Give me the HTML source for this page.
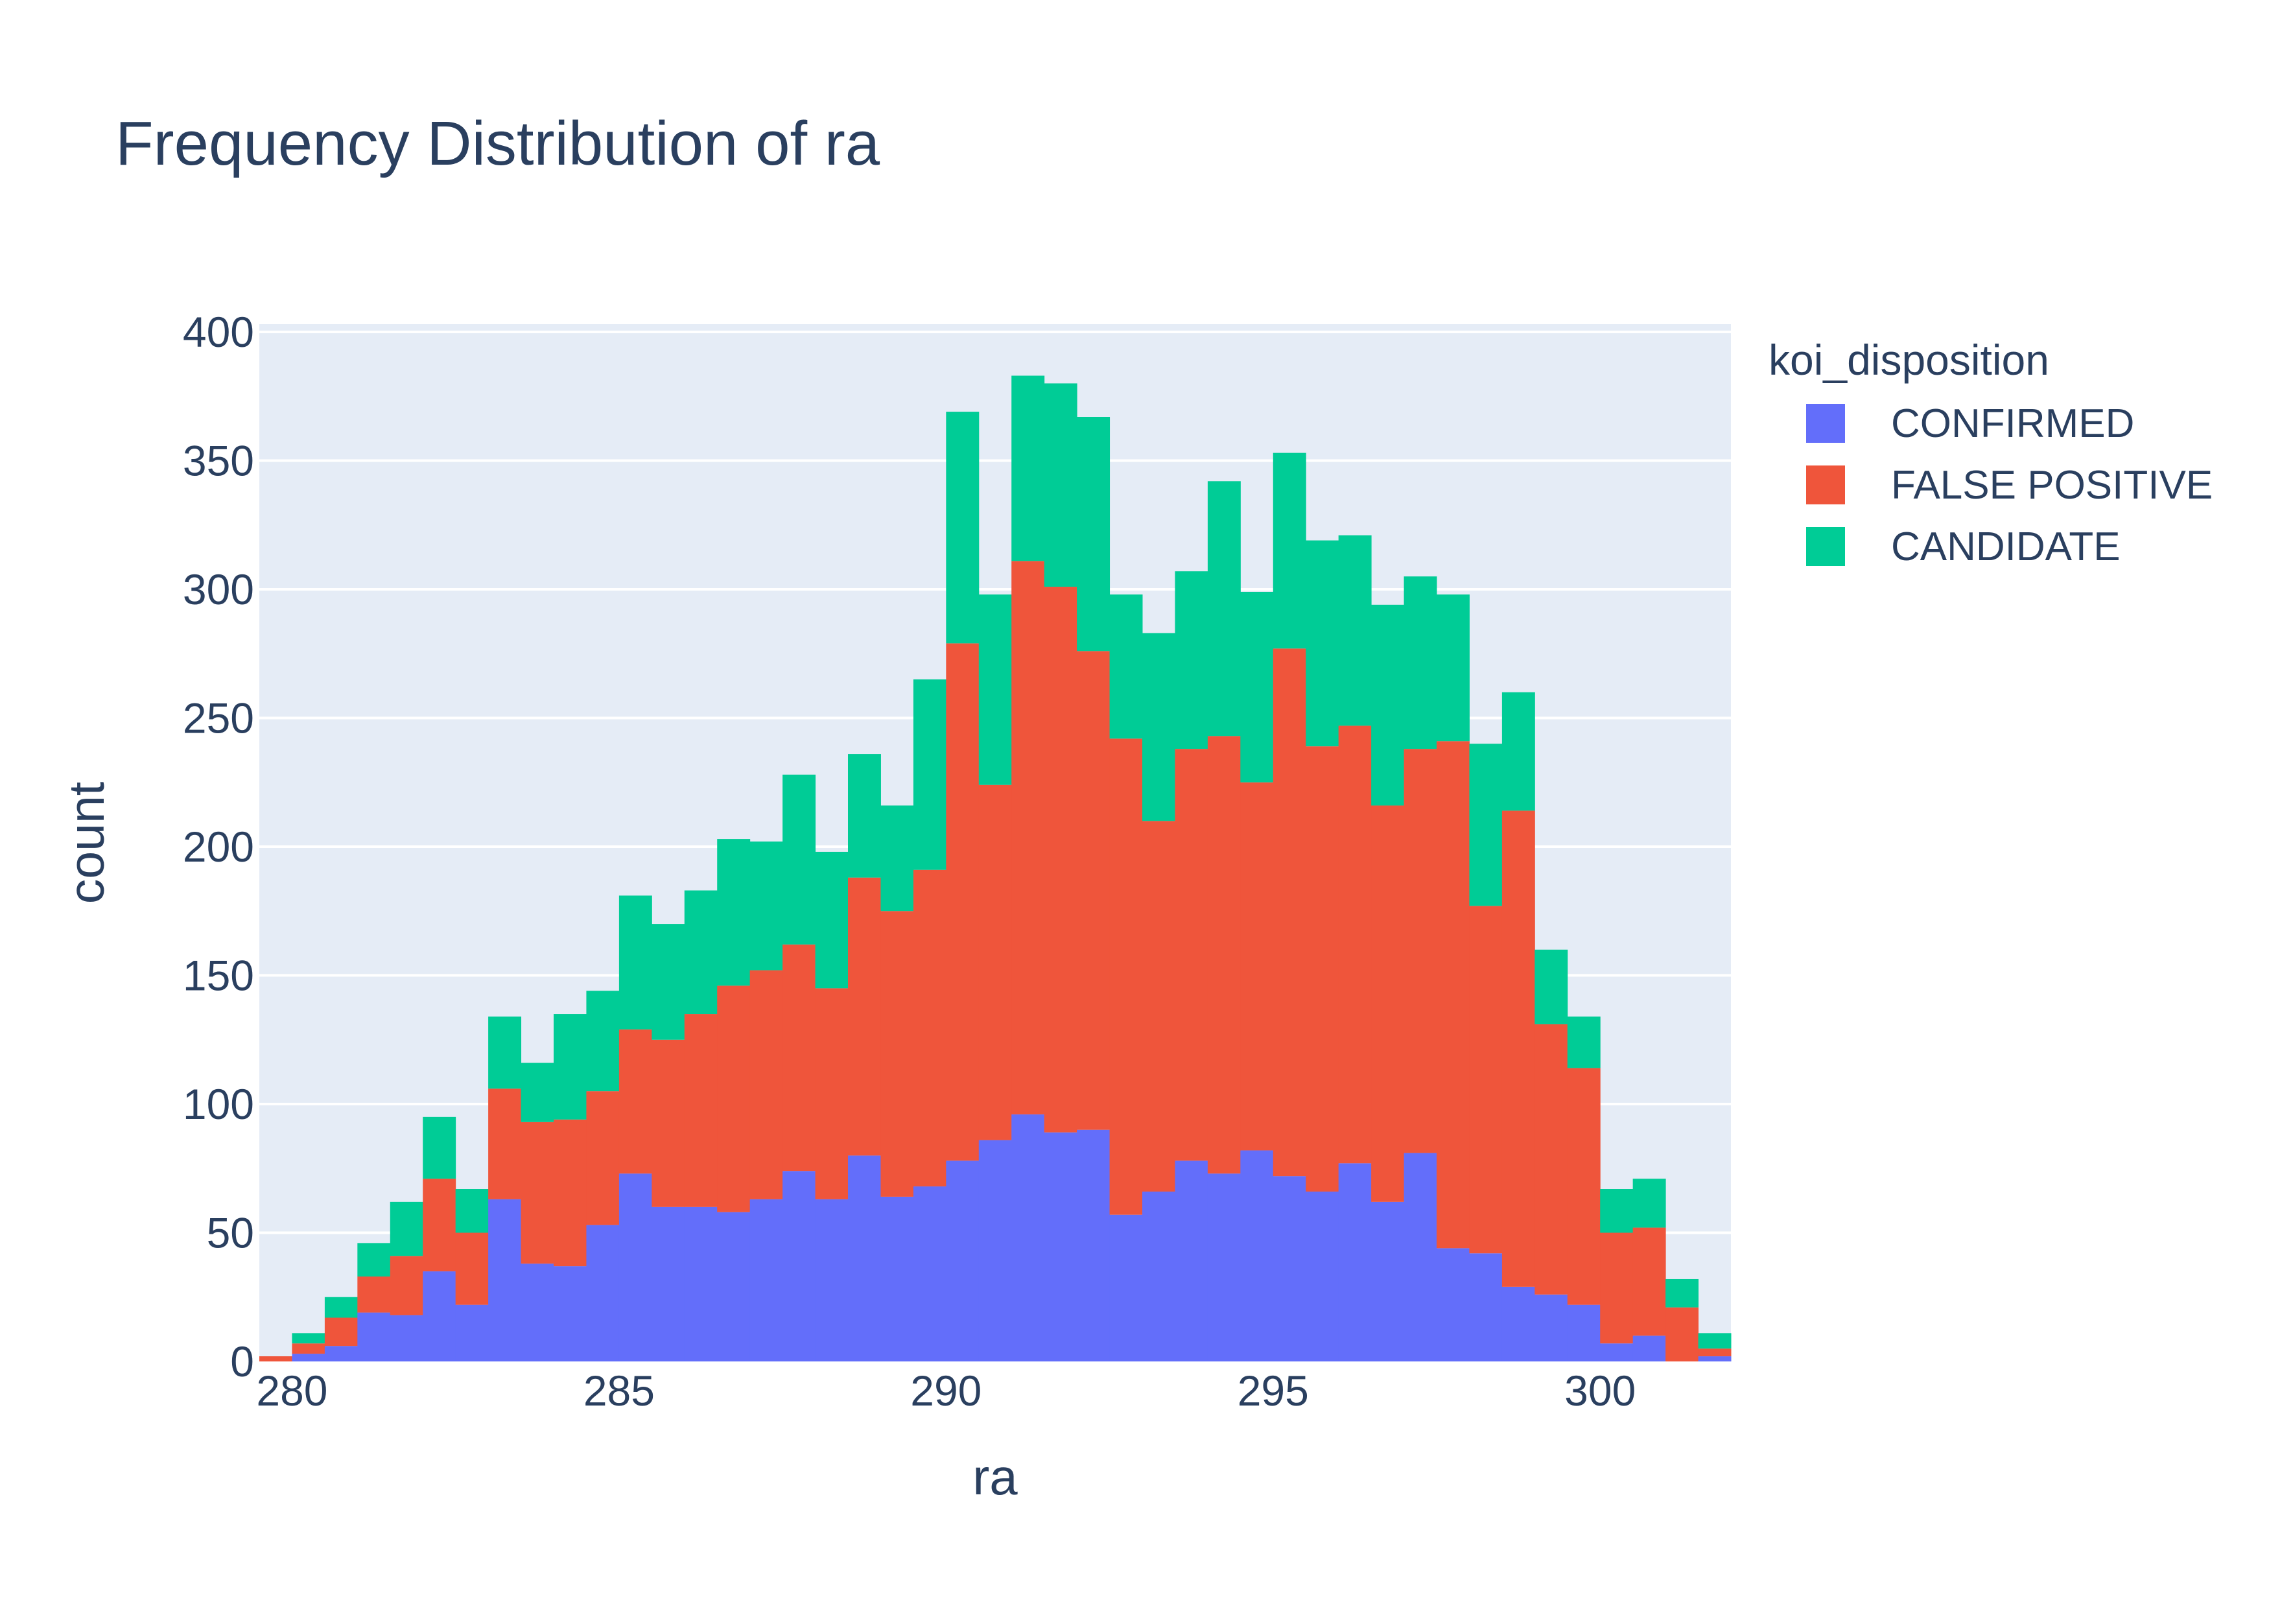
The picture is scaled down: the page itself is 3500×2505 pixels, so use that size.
<!DOCTYPE html>
<html><head><meta charset="utf-8"><style>
html,body{margin:0;padding:0;background:#fff}
svg text{font-family:"Liberation Sans",sans-serif;fill:#2a3f5f}
</style></head><body>
<svg id="chart" width="3500" height="2500" xmlns="http://www.w3.org/2000/svg">
<rect x="400" y="500" width="2270" height="1600" fill="#e5ecf6"/>
<g id="grid"></g>
<g id="bars"></g>
<g id="yticks"></g>
<g id="xticks"></g>
<text x="178" y="254" font-size="96">Frequency Distribution of ra</text>
<text x="1535" y="2305" font-size="78" text-anchor="middle">ra</text>
<text x="160" y="1300" font-size="77" text-anchor="middle" transform="rotate(-90 160 1300)">count</text>
<g>
<text x="2728" y="578" font-size="66">koi_disposition</text>
<g><rect x="2786" y="623" width="60" height="60" fill="#636efa"/><text x="2917" y="674" font-size="62">CONFIRMED</text></g>
<g><rect x="2786" y="718" width="60" height="60" fill="#ef553b"/><text x="2917" y="769" font-size="62">FALSE POSITIVE</text></g>
<g><rect x="2786" y="813" width="60" height="60" fill="#00cc96"/><text x="2917" y="864" font-size="62">CANDIDATE</text></g>
</g>
</svg>
<script>
const binStart = 279.5;
const binWidth = 0.5;
const confirmed = [0,3,6,19,18,35,22,63,38,37,53,73,60,60,58,63,74,63,80,64,68,78,86,96,89,90,57,66,78,73,82,72,66,77,62,81,44,42,29,26,22,7,10,0,2];
const falsePositiveTop = [2,7,17,33,41,71,50,106,93,94,105,129,125,135,146,152,162,145,188,175,191,279,224,311,301,276,242,210,238,243,225,277,239,247,216,238,241,177,214,131,114,50,52,21,5];
const totalTop = [2,11,25,46,62,95,67,134,116,135,144,181,170,183,203,202,228,198,236,216,265,369,298,383,380,367,298,283,307,342,299,353,319,321,294,305,298,240,260,160,134,67,71,32,11];
const yTicks = [0,50,100,150,200,250,300,350,400];
const xTicks = [280,285,290,295,300];
const NS = "http://www.w3.org/2000/svg";
const X0 = 400, X1 = 2670, Y0 = 2100, Y400 = 512;
function xs(v){ return X0 + (v - 279.5) / 22.5 * (X1 - X0); }
function ys(v){ return Y0 + v * (Y400 - Y0) / 400; }
function mk(tag, attrs, parent){ const e = document.createElementNS(NS, tag); for (const k in attrs) e.setAttribute(k, attrs[k]); parent.appendChild(e); return e; }
const grid = document.getElementById('grid');
yTicks.forEach(t => {
  if (t === 0) return;
  const l = mk('line', {x1:X0, x2:X1, y1:ys(t), y2:ys(t), stroke:'#fff', 'stroke-width':4}, grid);
  
  
});
const bars = document.getElementById('bars');
const colors = ['#636efa', '#ef553b', '#00cc96'];
for (let i = 0; i < confirmed.length; i++) {
  const a = xs(binStart + i * binWidth), b = xs(binStart + (i + 1) * binWidth);
  const segs = [[0, confirmed[i]], [confirmed[i], falsePositiveTop[i]], [falsePositiveTop[i], totalTop[i]]];
  const names = ['bar-confirmed', 'bar-false-positive', 'bar-candidate'];
  segs.forEach((s, j) => {
    if (s[1] <= s[0]) return;
    const r = mk('rect', {x:a, width:b - a + 0.5, y:ys(s[1]), height:ys(s[0]) - ys(s[1]), fill:colors[j]}, bars);
    
    
  });
}
const yt = document.getElementById('yticks');
yTicks.forEach(t => {
  const e = mk('text', {x:392, y:ys(t) + 23, 'font-size':66, 'text-anchor':'end'}, yt);
  e.textContent = t;
  
  
});
const xt = document.getElementById('xticks');
xTicks.forEach(t => {
  const e = mk('text', {x:xs(t), y:2168, 'font-size':66, 'text-anchor':'middle'}, xt);
  e.textContent = t;
  
  
});
</script>
</body></html>
